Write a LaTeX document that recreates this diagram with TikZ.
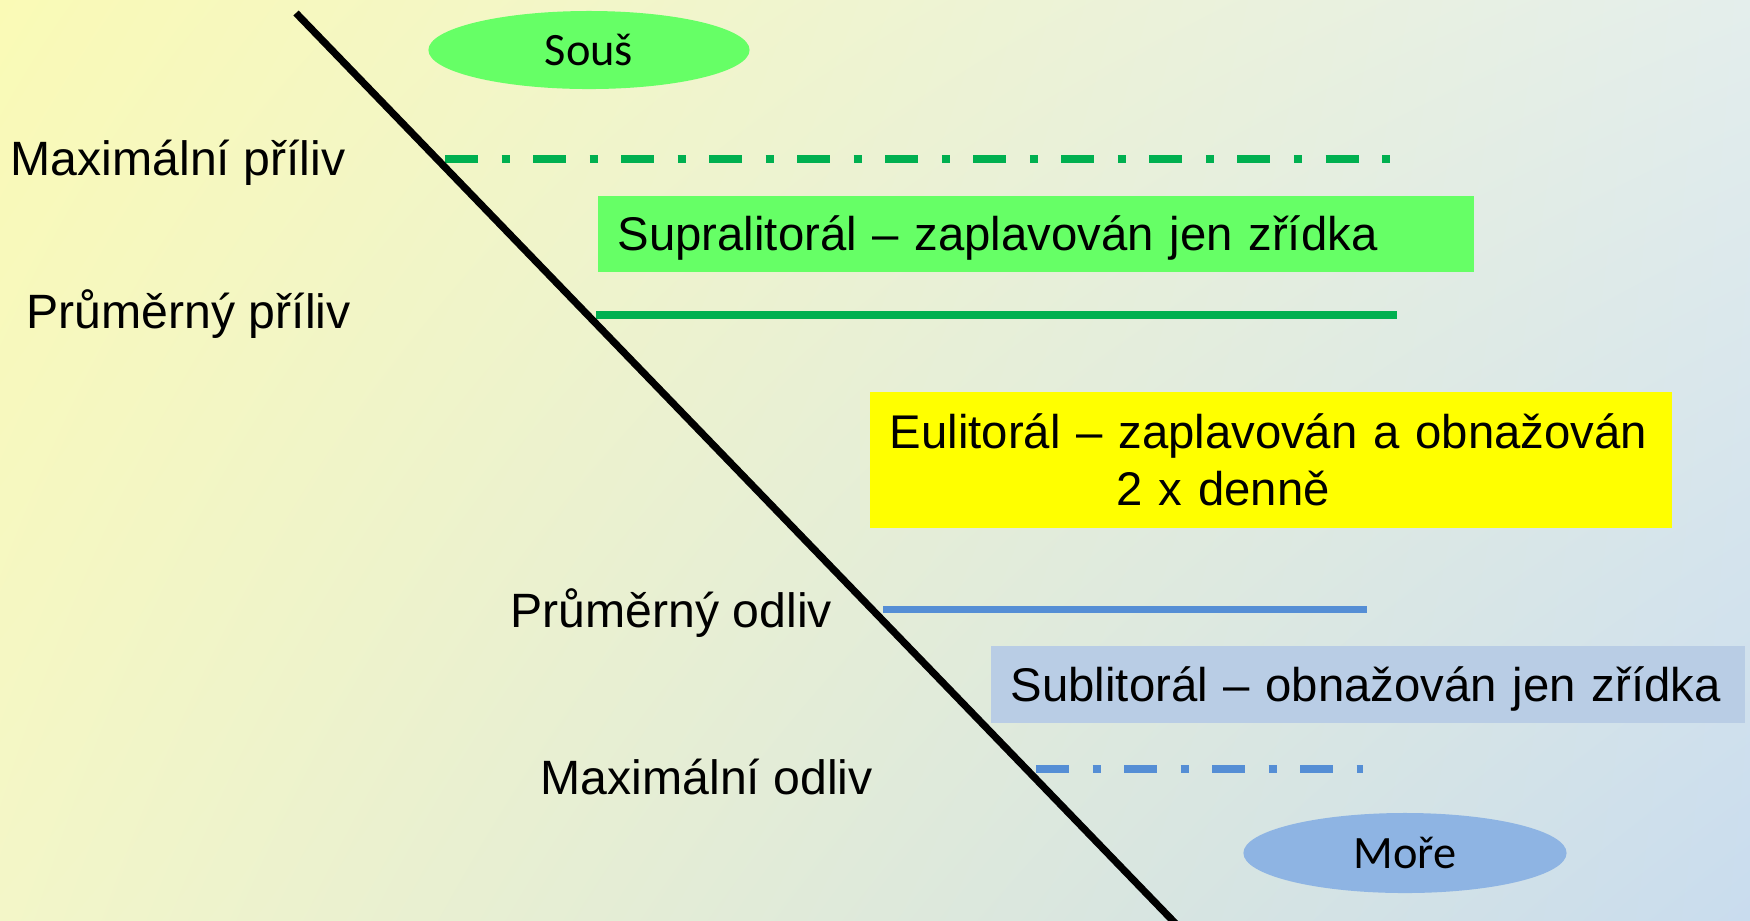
\documentclass[tikz,border=0pt]{standalone}
\usepackage{fontspec}
\setmainfont{Liberation Sans}
\newfontfamily\calibri{Carlito}
\usetikzlibrary{shapes.geometric,shadings}

\definecolor{bgul}{RGB}{250,250,182}
\definecolor{bgur}{RGB}{228,238,236}
\definecolor{bgll}{RGB}{243,246,200}
\definecolor{bglr}{RGB}{201,220,238}
\definecolor{landgreen}{HTML}{66FF66}
\definecolor{euyellow}{HTML}{FFFF00}
\definecolor{tidegreen}{HTML}{00B050}
\definecolor{tideblue}{HTML}{558ED5}
\definecolor{subblue}{HTML}{B9CDE5}
\definecolor{seablue}{HTML}{8EB4E3}

\begin{document}
\begin{tikzpicture}[x=0.01cm,y=-0.01cm]
    \shade[upper left=bgul, upper right=bgur, lower left=bgll, lower right=bglr] (0,0) rectangle (1750,920);
    \useasboundingbox (0,0) rectangle (1750,920);

    \tikzstyle{tidelabel} = [inner sep=0pt, anchor=base west, font=\fontsize{13.7}{16.4}\selectfont]
    \tikzstyle{zonebox} = [inner sep=0pt, anchor=north west, align=left, font=\fontsize{13.45}{16.4}\selectfont]
    \tikzstyle{landnode} = [ellipse, inner sep=0pt, minimum width=3.21cm, minimum height=0.78cm, font=\calibri\fontsize{13.2}{15}\selectfont]
    \tikzstyle{meanline} = [line width=0.077cm]
    \tikzstyle{extremeline} = [line width=0.077cm, dash pattern=on 0.33cm off 0.235cm on 0.08cm off 0.235cm]

    \node[landnode, fill=landgreen] (sous) at (589,50) {Souš};
    \node[landnode, fill=seablue, minimum width=3.23cm, minimum height=0.8cm] (more) at (1405,853) {Moře};

    \node[tidelabel] (maxpril) at (10,175) {Maximální příliv};
    \node[tidelabel] (prumpril) at (26,328) {Průměrný příliv};
    \node[tidelabel] (prumodl) at (510,627) {Průměrný odliv};
    \node[tidelabel] (maxodl) at (540,794) {Maximální odliv};

    \node[zonebox, fill=landgreen, text width=8.76cm, text height=0.55cm, text depth=0.21cm] (supra) at (597,195) {\hspace*{0.2cm}Supralitorál – zaplavován jen zřídka};
    \node[zonebox, fill=euyellow, text width=8.02cm, minimum height=1.36cm] (eu) at (869,391) {\hspace*{0.2cm}Eulitorál – zaplavován a obnažován\\ \hspace*{2.47cm}2 x denně};
    \node[zonebox, fill=subblue, text width=7.54cm, text height=0.555cm, text depth=0.215cm] (sub) at (990,645) {\hspace*{0.2cm}Sublitorál – obnažován jen zřídka};

    \foreach \name/\xa/\xb/\y/\col/\sty in {maxpril/445/1390/159/tidegreen/extremeline, prumpril/596/1397/315/tidegreen/meanline, prumodl/883/1367/609.5/tideblue/meanline, maxodl/1036/1363/769/tideblue/extremeline} {
        \coordinate (\name L) at (\xa,\y);
        \coordinate (\name R) at (\xb,\y);
        \draw[\sty, color=\col] (\name L) -- (\name R);
    }

    \coordinate (shoretop) at (296,13);
    \coordinate (shorebot) at (1176,924);
    \draw[line width=0.072cm] (shoretop) -- (shorebot);
\end{tikzpicture}
\end{document}
